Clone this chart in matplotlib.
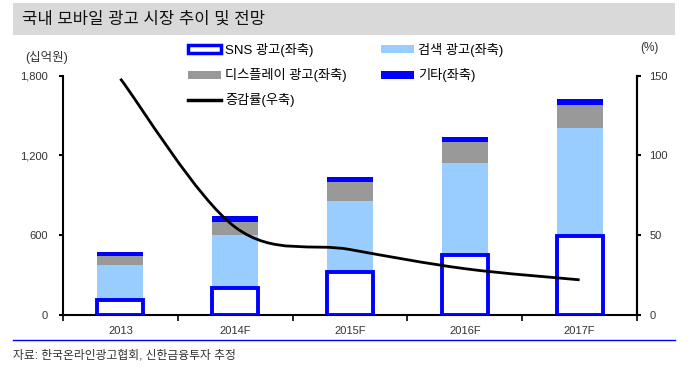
import matplotlib
matplotlib.use('Agg')
import matplotlib.pyplot as plt
from matplotlib.patches import Rectangle, Patch, PathPatch
from matplotlib.lines import Line2D
from matplotlib.path import Path
import numpy as np

plt.rcParams['font.family'] = ['Liberation Sans', 'Noto Sans CJK KR']

# data (십억원 / %)
years = ['2013', '2014F', '2015F', '2016F', '2017F']
sns_ad = [113, 200, 326, 451, 590]
search_ad = [263, 402, 534, 690, 816]
display_ad = [68, 100, 139, 156, 175]
other_ad = [32, 43, 37, 40, 45]
growth = [148, 55, 41, 29, 22]

BLUE = '#0000FF'
LIGHT_BLUE = '#99CCFF'
GRAY = '#999999'
TXT = '#333333'


def smooth_path(xs, ys):
    """Excel-style smoothed line: Catmull-Rom converted to cubic Bezier segments."""
    pts = np.column_stack([xs, ys]).astype(float)
    ext = np.vstack([pts[0], pts, pts[-1]])
    verts = [tuple(pts[0])]
    codes = [Path.MOVETO]
    for i in range(len(pts) - 1):
        p_prev, p0, p1, p_next = ext[i], ext[i + 1], ext[i + 2], ext[i + 3]
        c1 = p0 + (p1 - p_prev) / 6
        c2 = p1 - (p_next - p0) / 6
        verts += [tuple(c1), tuple(c2), tuple(p1)]
        codes += [Path.CURVE4] * 3
    return Path(verts, codes)


fig = plt.figure(figsize=(7.0, 3.79), dpi=100)
ax = fig.add_axes([0.09, 0.169, 0.82, 0.6316])
ax2 = ax.twinx()

x = np.arange(len(years))
w = 0.40
bottom = np.zeros(len(years))
ax.bar(x, sns_ad, w, color='white', edgecolor=BLUE, linewidth=2.8, zorder=3)
bottom += sns_ad
ax.bar(x, search_ad, w, bottom=bottom, color=LIGHT_BLUE, linewidth=0, zorder=2)
bottom += search_ad
ax.bar(x, display_ad, w, bottom=bottom, color=GRAY, linewidth=0, zorder=2)
bottom += display_ad
ax.bar(x, other_ad, w, bottom=bottom, color=BLUE, linewidth=0, zorder=2)

ax.set_xlim(-0.5, len(years) - 0.5)
ax.set_ylim(0, 1800)
ax.set_yticks([0, 600, 1200, 1800])
ax.set_yticklabels(['0', '600', '1,200', '1,800'])
ax.set_xticks(x)
ax.set_xticklabels(years)
ax.set_xticks(np.arange(-0.5, len(years)), minor=True)
ax.tick_params(axis='x', which='major', length=0, pad=8, labelsize=8, labelcolor=TXT)
ax.tick_params(axis='x', which='minor', length=4, width=1.2, direction='out')
ax.tick_params(axis='y', length=3, width=1.5, labelsize=8, labelcolor=TXT, pad=8)

ax2.set_ylim(0, 150)
ax2.set_yticks([0, 50, 100, 150])
ax2.tick_params(axis='y', length=3, width=1.5, labelsize=8, labelcolor=TXT, pad=6)
ax2.add_patch(PathPatch(smooth_path(x, growth), facecolor='none',
                        edgecolor='black', linewidth=2.0, zorder=4))

for a in (ax, ax2):
    a.spines['top'].set_visible(False)
    for s in ('left', 'right', 'bottom'):
        a.spines[s].set_linewidth(1.5)
        a.spines[s].set_color('black')
ax2.spines['left'].set_visible(False)
ax2.spines['bottom'].set_visible(False)

# title band
fig.patches.append(Rectangle((13 / 700, 1 - 35 / 379), 662 / 700, 32 / 379,
                             transform=fig.transFigure, facecolor='#D9D9D9',
                             edgecolor='none', zorder=0))
fig.text(22 / 700, 1 - 19 / 379, '국내 모바일 광고 시장 추이 및 전망',
         fontsize=12, va='center', ha='left', color='#111111')

fig.text(25 / 700, 1 - 58 / 379, '(십억원)', fontsize=9, va='center', color=TXT)
fig.text(640 / 700, 1 - 48 / 379, '(%)', fontsize=8.5, va='center', color=TXT)

handles = [
    Patch(facecolor='white', edgecolor=BLUE, linewidth=2.5),
    Patch(facecolor=GRAY, edgecolor='none'),
    Line2D([0], [0], color='black', linewidth=2.5),
    Patch(facecolor=LIGHT_BLUE, edgecolor='none'),
    Patch(facecolor=BLUE, edgecolor='none'),
]
labels = ['SNS 광고(좌축)', '디스플레이 광고(좌축)', '증감률(우축)',
          '검색 광고(좌축)', '기타(좌축)']
fig.legend(handles, labels, ncol=2, loc='upper left',
           bbox_to_anchor=(188 / 700, 1 - 43 / 379), frameon=False,
           fontsize=9.5, handlelength=2.5, handleheight=0.55, handletextpad=0.3,
           labelspacing=0.85, columnspacing=2.6, borderaxespad=0, borderpad=0)

# footer
fig.add_artist(Line2D([13 / 700, 675 / 700], [1 - 340 / 379, 1 - 340 / 379],
                      transform=fig.transFigure, color=BLUE, linewidth=1))
fig.text(13 / 700, 1 - 355 / 379, '자료: 한국온라인광고협회, 신한금융투자 추정',
         fontsize=8.5, va='center', ha='left', color=TXT)

fig.savefig('out.png', dpi=100)
